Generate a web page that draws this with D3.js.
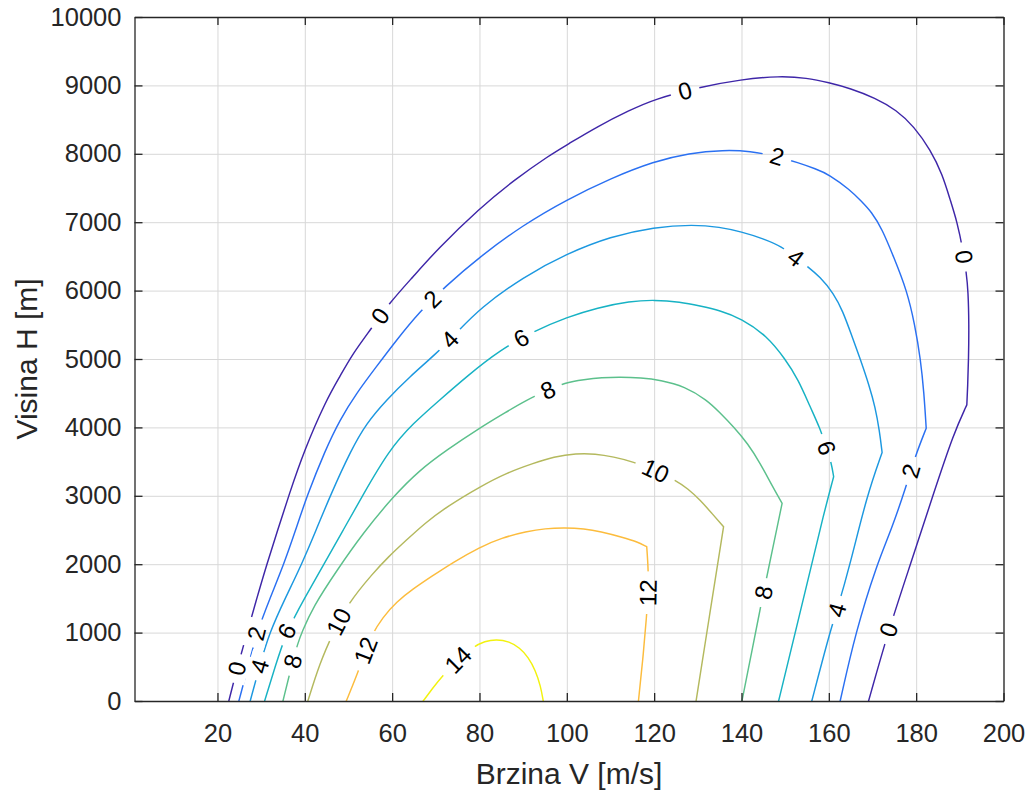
<!DOCTYPE html>
<html>
<head>
<meta charset="utf-8">
<script src="https://cdn.jsdelivr.net/npm/d3@7"></script>
<style>
  html, body { margin: 0; padding: 0; background: #ffffff; }
  svg { display: block; font-family: "Liberation Sans", Arial, Helvetica, sans-serif; }
</style>
</head>
<body>
<svg id="chart" width="1028" height="793"></svg>
<script>
// Rate-of-climb contour levels [m/s] and their line colours (parula)
const levels = [0, 2, 4, 6, 8, 10, 12, 14];
const levelColors = ["#3e26a8", "#2a70f2", "#1c98e0", "#17b2c4", "#5cc08c", "#b4b95e", "#fcbc3d", "#f2f20e"];

// Contour lines as [speed V (m/s), altitude H (m)] pairs, left foot to right foot.
// Each contour is split into smooth pieces that meet at a corner.
const contour0 = [
  [[22.6,0],[24.5,480],[26.8,1000],[29.0,1500],[31.3,2000],[33.8,2500],[36.3,3000],[39.9,3670],[44.9,4400],[48.0,4740],[51.0,5080],[55.3,5450],[59.3,5814],[64.8,6203],[70.2,6594],[80.0,7203],[88.0,7620],[96.1,7982],[100,8129],[107,8400],[114.5,8640],[120,8797],[130.1,8972],[140,9089],[148.7,9137],[155,9110],[160,9040],[164.9,8957],[170.6,8816],[175.5,8640],[179.5,8400],[183.3,8055],[186,7700],[187.8,7325],[189.4,7000],[190.7,6600],[191.5,6253],[191.9,6000],[192.1,5500],[192.0,5000],[191.8,4600],[191.6,4330]],
  [[191.6,4330],[188.6,3914],[184.0,3037],[178.7,2000],[173.5,1000],[169.1,0]]
];
const contour2 = [
  [[24.9,0],[27.0,500],[29.0,1000],[32.0,1500],[35.2,2000],[37.9,2500],[40.5,3000],[44.7,3670],[48.0,4108],[51.8,4498],[56.4,4888],[61.0,5278],[66.3,5691],[72.1,6057],[80.1,6496],[90,6960],[100,7330],[110,7640],[120,7890],[128,8010],[135.9,8056],[142,8040],[148,7965],[153,7870],[157,7780],[160,7700],[164.9,7471],[167.4,7310],[169.8,7150],[172.2,6900],[174.8,6500],[177.9,6000],[179.7,5500],[181,5000],[181.8,4500],[182.3,3987]],
  [[182.3,3987],[179.8,3584],[177.7,3133],[174.3,2500],[171.0,2000],[166.1,1000],[162.6,0]]
];
const contour4 = [
  [[27.5,0],[29.6,500],[31.9,1000],[35.5,1500],[39.3,2000],[42.6,2500],[45.8,3000],[50.6,3670],[54.1,4060],[58.7,4401],[64.0,4741],[70.2,5083],[75.0,5400],[80.1,5740],[90,6200],[100,6540],[110,6790],[120,6930],[129,6965],[135,6930],[140,6860],[145,6760],[149.3,6642],[152.3,6490],[155,6360],[158,6200],[161.1,5960],[163.2,5700],[165.2,5350],[167.2,5000],[169.3,4600],[170.6,4300],[171.6,3950],[172.2,3633]],
  [[172.2,3633],[168.7,3000],[164.9,2000],[161.9,1330],[160.2,1000],[156.1,0]]
];
const contour6 = [
  [[30.8,0],[33.2,500],[35.7,1000],[39.9,1500],[44.4,2000],[48.8,2500],[53.2,3000],[59.3,3670],[64.8,4060],[70.9,4401],[77.0,4741],[84.7,5132],[92.7,5414],[100,5610],[107,5750],[114.5,5845],[120,5865],[126,5835],[130.5,5775],[135,5710],[140,5590],[145.8,5340],[150,5000],[153,4700],[155.7,4303],[158,3987],[159.5,3694],[160.6,3475],[161.1,3279]],
  [[161.1,3279],[158.7,2700],[156.1,2000],[152.3,1000],[148.5,0]]
];
const contour8 = [
  [[35.0,0],[37.2,575],[38.4,843],[39.3,1000],[41.9,1379],[47.4,1915],[53.3,2452],[60.2,2987],[66.3,3377],[72.5,3670],[80,3990],[86,4220],[90.8,4400],[95.7,4547],[99.4,4652],[104,4700],[108,4728],[112.2,4737],[117,4725],[121.4,4693],[127,4600],[132.1,4400],[135,4220],[138.2,4010],[141.5,3760],[144.3,3475],[147,3150],[149.3,2890]],
  [[149.3,2890],[145.8,1817],[144.3,1355],[142.3,700],[140.1,0]]
];
const contour10 = [
  [[40.7,0],[43.4,551],[46.5,1000],[49.9,1428],[55.6,1867],[59,2100],[63.3,2354],[67.5,2600],[72.5,2841],[80.1,3133],[86,3330],[92.3,3475],[97,3570],[102.2,3621],[106.5,3615],[110.7,3570],[115.2,3499],[120.2,3370],[124.8,3231],[127.8,3100],[130.5,2939],[133.2,2745],[135.9,2548]],
  [[135.9,2548],[132.8,1300],[129.6,0]]
];
const contour12 = [
  [[49.5,0],[51.8,355],[53.7,700],[55.3,965],[57.8,1220],[61.0,1450],[64.8,1640],[69.0,1820],[74,2030],[80.1,2250],[85,2385],[90.8,2478],[95,2522],[99.6,2534],[104,2518],[107.6,2480],[113,2390],[116,2330],[118.3,2256]],
  [[118.3,2256],[118.7,1890],[118.6,1583],[118.3,1257],[117.4,600],[116.4,0]]
];
const contour14 = [
  [[67.1,0],[69.2,180],[71.3,355],[75.1,600],[78.6,794],[81.2,875],[83.9,902],[86.8,870],[89.2,780],[91.2,640],[92.8,450],[94,220],[94.6,0]]
];

// Inline label spots: [level, V, H]
const labelSpots = [
  [0, 24.2, 480], [0, 57.3, 5630], [0, 127.1, 8910], [0, 190.8, 6490], [0, 173.8, 1040],
  [2, 28.9, 990], [2, 69.8, 5838], [2, 148.1, 7950], [2, 179.4, 3352],
  [4, 29.6, 510], [4, 72.8, 5307], [4, 152.3, 6472], [4, 161.9, 1330],
  [6, 35.4, 1038], [6, 89.7, 5290], [6, 159.2, 3694],
  [8, 37.5, 575], [8, 95.7, 4547], [8, 145.8, 1575],
  [10, 47.7, 1160], [10, 120.2, 3350],
  [12, 53.7, 746], [12, 118.6, 1583],
  [14, 75.1, 600]
];

// Axis ticks and titles
const xTicks = [20, 40, 60, 80, 100, 120, 140, 160, 180, 200];
const yTicks = [0, 1000, 2000, 3000, 4000, 5000, 6000, 7000, 8000, 9000, 10000];
const xTitle = "Brzina V [m/s]";
const yTitle = "Visina H [m]";

const contours = [contour0, contour2, contour4, contour6, contour8, contour10, contour12, contour14];

const W = 1028, Hh = 793;
const plot = { left: 134.5, right: 1003.5, top: 17, bottom: 701 };
const tickFont = 25.5, labelFont = 24, titleFont = 30;
const ink = "#262626";

const x = d3.scaleLinear().domain([1, 200]).range([plot.left, plot.right]);
const y = d3.scaleLinear().domain([0, 10000]).range([plot.bottom, plot.top]);

const svg = d3.select("#chart");
const defs = svg.append("defs");
defs.append("clipPath").attr("id", "plotClip")
  .append("rect")
  .attr("x", plot.left).attr("y", plot.top)
  .attr("width", plot.right - plot.left).attr("height", plot.bottom - plot.top);

const gapMask = defs.append("mask").attr("id", "labelGaps")
  .attr("maskUnits", "userSpaceOnUse")
  .attr("x", 0).attr("y", 0).attr("width", W).attr("height", Hh);
gapMask.append("rect").attr("width", W).attr("height", Hh).attr("fill", "white");

// Grid
const plotW = plot.right - plot.left, plotH = plot.bottom - plot.top;
const gx = svg.append("g").attr("transform", `translate(0,${plot.bottom})`)
  .call(d3.axisBottom(x).tickValues(xTicks).tickSize(-plotH).tickFormat(""));
const gy = svg.append("g").attr("transform", `translate(${plot.left},0)`)
  .call(d3.axisLeft(y).tickValues(yTicks).tickSize(-plotW).tickFormat(""));
[gx, gy].forEach(g => {
  g.select(".domain").remove();
  g.selectAll(".tick line").attr("stroke", "#d8d8d8").attr("stroke-width", 1);
});

// Contour lines: B-spline pieces joined at corners
const lineGen = d3.line().x(d => x(d[0])).y(d => y(d[1])).curve(d3.curveBasis);
const contourLayer = svg.append("g").attr("clip-path", "url(#plotClip)")
  .append("g").attr("mask", "url(#labelGaps)");
contourLayer.selectAll("path")
  .data(contours)
  .join("path")
  .attr("d", pieces => pieces.map(p => lineGen(p)).join(""))
  .attr("fill", "none")
  .attr("stroke", (d, i) => levelColors[i])
  .attr("stroke-width", 1.45)
  .attr("stroke-linejoin", "round")
  .attr("stroke-linecap", "round");

// Inline labels: snapped onto their contour and turned along it
const labelLayer = svg.append("g");
labelSpots.forEach(([lev, v, h]) => {
  const pts = contours[levels.indexOf(lev)].flat().map(p => [x(p[0]), y(p[1])]);
  const px = x(v), py = y(h);
  let best = { d: Infinity, x: px, y: py, dx: 1, dy: 0 };
  for (let i = 0; i < pts.length - 1; i++) {
    const [ax, ay] = pts[i], [bx, by] = pts[i + 1];
    const dx = bx - ax, dy = by - ay;
    const len2 = dx * dx + dy * dy;
    if (!len2) continue;
    let t = ((px - ax) * dx + (py - ay) * dy) / len2;
    t = Math.max(0, Math.min(1, t));
    const qx = ax + t * dx, qy = ay + t * dy;
    const d = (qx - px) ** 2 + (qy - py) ** 2;
    if (d < best.d) best = { d, x: qx, y: qy, dx, dy };
  }
  let ang = Math.atan2(best.dy, best.dx) * 180 / Math.PI;
  if (ang > 90) ang -= 180;
  if (ang <= -90) ang += 180;
  const tf = `translate(${best.x},${best.y}) rotate(${ang})`;
  const t = labelLayer.append("text")
    .attr("transform", tf)
    .attr("text-anchor", "middle")
    .attr("dy", "0.35em")
    .attr("font-size", labelFont)
    .attr("fill", "#000000")
    .text(lev);
  const w = t.node().getComputedTextLength();
  gapMask.append("rect")
    .attr("transform", tf)
    .attr("x", -w / 2 - 8).attr("y", -11)
    .attr("width", w + 16).attr("height", 22)
    .attr("fill", "black");
});

// Axes box with inward ticks on all four sides
function styleAxis(g) {
  g.select(".domain").attr("stroke", ink).attr("stroke-width", 1.3);
  g.selectAll(".tick line").attr("stroke", ink).attr("stroke-width", 1.3);
  g.selectAll(".tick text").attr("fill", ink);
  g.attr("font-size", tickFont).attr("font-family", null);
}
svg.append("g").attr("transform", `translate(0,${plot.bottom})`)
  .call(d3.axisBottom(x).tickValues(xTicks).tickSizeInner(-8).tickSizeOuter(0).tickPadding(23).tickFormat(d3.format("d")))
  .call(styleAxis);
svg.append("g").attr("transform", `translate(0,${plot.top})`)
  .call(d3.axisTop(x).tickValues(xTicks).tickSizeInner(-8).tickSizeOuter(0).tickFormat(""))
  .call(styleAxis);
svg.append("g").attr("transform", `translate(${plot.left},0)`)
  .call(d3.axisLeft(y).tickValues(yTicks).tickSizeInner(-8).tickSizeOuter(0).tickPadding(13).tickFormat(d3.format("d")))
  .call(styleAxis);
svg.append("g").attr("transform", `translate(${plot.right},0)`)
  .call(d3.axisRight(y).tickValues(yTicks).tickSizeInner(-8).tickSizeOuter(0).tickFormat(""))
  .call(styleAxis);

// Axis titles
svg.append("text")
  .attr("x", (plot.left + plot.right) / 2).attr("y", 783.5)
  .attr("text-anchor", "middle").attr("font-size", titleFont).attr("fill", ink)
  .text(xTitle);
svg.append("text")
  .attr("transform", `translate(36.5,${(plot.top + plot.bottom) / 2}) rotate(-90)`)
  .attr("text-anchor", "middle").attr("font-size", titleFont).attr("fill", ink)
  .text(yTitle);
</script>
</body>
</html>
